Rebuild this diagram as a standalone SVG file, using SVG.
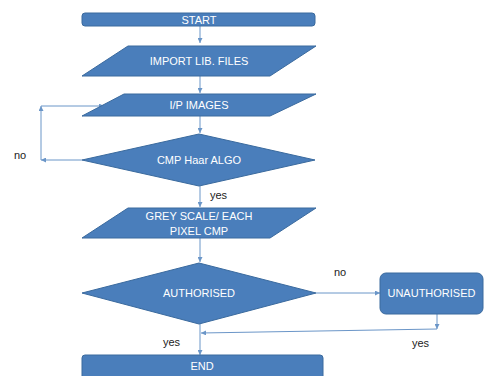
<svg xmlns="http://www.w3.org/2000/svg" width="484" height="376" viewBox="0 0 484 376">
<style>
.n{fill:#4A7EBB;stroke:#3A6A9E;stroke-width:1}
.t{fill:#fff;font-family:"Liberation Sans",Arial,sans-serif;font-size:11px;text-anchor:middle;dominant-baseline:central}
.l{fill:#222;font-family:"Liberation Sans",Arial,sans-serif;font-size:11px}
.c{fill:none;stroke:#6B96C8;stroke-width:1;marker-end:url(#a)}
</style>
<defs>
<marker id="a" viewBox="0 0 6 6" refX="6" refY="3" markerWidth="5" markerHeight="5" orient="auto"><path d="M0,0L6,3L0,6z" fill="#6B96C8"/></marker>
</defs>
<rect width="484" height="376" fill="#fff"/>
<g id="connectors">
<path class="c" d="M200,26V43"/>
<path class="c" d="M200,76V93"/>
<path class="c" d="M200,116V133"/>
<path class="c" d="M82,160H41"/>
<path class="c" d="M41,160V106"/>
<path class="c" d="M41,106H104"/>
<path class="c" d="M200,186V207"/>
<path class="c" d="M200,238V262"/>
<path class="c" d="M316,293H380"/>
<path class="c" d="M437,314V329"/>
<path class="c" d="M437,329L201,333"/>
<path class="c" d="M200,324V355"/>
</g>
<g id="start"><rect class="n" x="82" y="13" width="233" height="13" rx="3"/><text class="t" x="199" y="19.5">START</text></g>
<g id="import"><polygon class="n" points="128,46 316,46 270,76 82,76"/><text class="t" x="199" y="61">IMPORT LIB. FILES</text></g>
<g id="input"><polygon class="n" points="124,94 316,94 270,116 82,116"/><text class="t" x="199" y="105">I/P IMAGES</text></g>
<g id="haar"><polygon class="n" points="199,134 315,160 199,186 82,160"/><text class="t" x="199" y="160">CMP Haar ALGO</text></g>
<g id="grey"><polygon class="n" points="128,208 316,208 270,238 82,238"/><text class="t" x="199" y="215.5">GREY SCALE/ EACH</text><text class="t" x="199" y="231">PIXEL CMP</text></g>
<g id="auth"><polygon class="n" points="199,263 316,293 199,324 82,293"/><text class="t" x="199" y="293">AUTHORISED</text></g>
<g id="unauth"><rect class="n" x="380" y="273" width="103" height="41" rx="6"/><text class="t" x="431.5" y="293">UNAUTHORISED</text></g>
<g id="end"><rect class="n" x="82" y="355" width="241" height="30" rx="3"/><text class="t" x="202" y="366">END</text></g>
<g id="labels">
<text class="l" x="14" y="159">no</text>
<text class="l" x="210" y="199">yes</text>
<text class="l" x="334" y="276">no</text>
<text class="l" x="163" y="346">yes</text>
<text class="l" x="412" y="347">yes</text>
</g>
</svg>
